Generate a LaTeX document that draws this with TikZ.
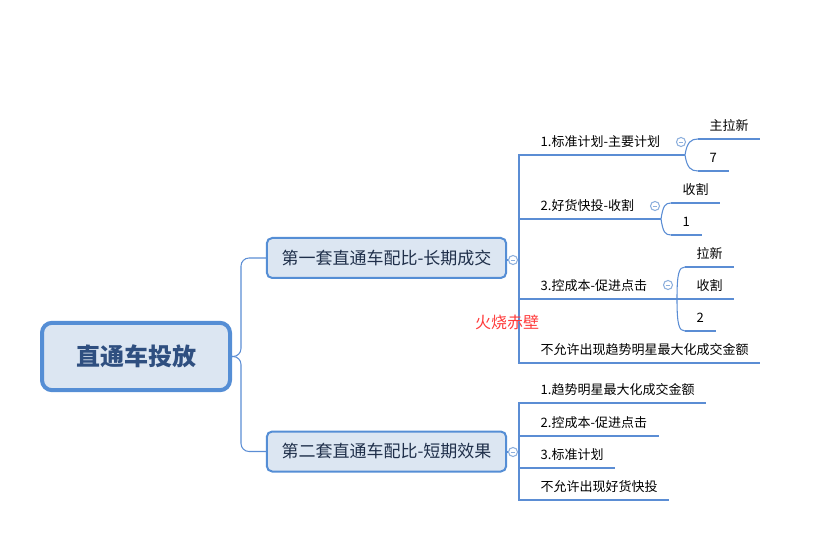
\documentclass[tikz,border=0pt]{standalone}
\usepackage{fontspec}
\setmainfont{Noto Sans CJK SC}
\definecolor{lineblue}{HTML}{5B8DD4}
\definecolor{boxfill}{HTML}{DCE6F2}
\definecolor{boxborder}{HTML}{558ED5}
\definecolor{roottext}{HTML}{2F4F80}
\definecolor{branchtext}{HTML}{1F2F4A}
\definecolor{collapse}{HTML}{8EB0DD}
\definecolor{firered}{HTML}{FF3B3B}
\tikzset{
  rootbox/.style={draw=boxborder, line width=3pt, fill=boxfill, rounded corners=7.5pt,
    minimum width=141pt, minimum height=50.5pt, inner sep=0pt,
    font=\fontsize{18pt}{20pt}\selectfont\bfseries, text=roottext},
  branchbox/.style={draw=boxborder, line width=1.5pt, fill=boxfill, rounded corners=4pt,
    minimum width=179.5pt, minimum height=30pt, inner sep=0pt,
    font=\fontsize{12.75pt}{14pt}\selectfont, text=branchtext},
  leaf/.style={anchor=south west, inner xsep=8.6pt, inner ysep=4pt,
    text height=7.8pt, text depth=1.95pt,
    font=\fontsize{9.75pt}{11pt}\selectfont, text=black},
  uline/.style={draw=lineblue, line width=2.2pt},
  conn/.style={draw=lineblue, line width=0.8pt},
  collapsebtn/.style={circle, draw=collapse, fill=white, line width=0.8pt,
    minimum size=6.8pt, inner sep=0pt,
    path picture={\draw[collapse, line width=0.7pt]
      ([xshift=-1.8pt]path picture bounding box.center) -- ([xshift=1.8pt]path picture bounding box.center);}},
}
\newcommand{\uln}[1]{\draw[uline] (#1.south west) -- (#1.south east);}
\begin{document}
\begin{tikzpicture}[x=0.75pt,y=-0.75pt]
\useasboundingbox (0,0) rectangle (828,538);

% root and branches
\node[rootbox] (root) at (136,356.5) {直通车投放};
\node[branchbox] (b1) at (386.5,258) {第一套直通车配比-长期成交};
\node[branchbox] (b2) at (386.5,451.5) {第二套直通车配比-短期效果};
\draw[conn, rounded corners=6pt] (root.east) -- ++(9,0) |- (b1.west);
\draw[conn, rounded corners=6pt] (root.east) -- ++(9,0) |- (b2.west);

\node[collapsebtn] (cb1) at (513,260) {};
\node[collapsebtn] (cb2) at (513,452) {};
\draw[conn] (b1.east |- cb1) -- (cb1.west);
\draw[conn] (b2.east |- cb2) -- (cb2.west);

% branch 1 children
\node[leaf] (c11) at (529,155) {1.标准计划-主要计划};
\node[leaf] (c12) at (529,219) {2.好货快投-收割};
\node[leaf] (c13) at (529,299) {3.控成本-促进点击};
\node[leaf] (c14) at (529,363) {不允许出现趋势明星最大化成交金额};
\coordinate (sp1) at (519,260);
\draw[conn] (cb1.east) -- (sp1);
\draw[conn] (c11.south west) -- ++(-10,0) |- (c14.south west);
\draw[conn] (c12.south west) -- ++(-10,0);
\draw[conn] (c13.south west) -- ++(-10,0);
\uln{c11}\uln{c12}\uln{c13}\uln{c14}

% c11 children
\node[collapsebtn] (cb11) at (681,142) {};
\node[leaf] (d111) at (698,139) {主拉新};
\node[leaf] (d112) at (698,171) {7};
\coordinate (f11) at (685,155);
\draw[conn] (c11.south east) -- (f11);
\draw[conn] (f11) .. controls +(2,-13) and +(-7,0) .. (d111.south west);
\draw[conn] (f11) .. controls +(2,13) and +(-7,0) .. (d112.south west);
\uln{d111}\uln{d112}

% c12 children
\node[collapsebtn] (cb12) at (655,206) {};
\node[leaf] (d121) at (671,203) {收割};
\node[leaf] (d122) at (671,235) {1};
\coordinate (f12) at (661,219);
\draw[conn] (c12.south east) -- (f12);
\draw[conn] (f12) .. controls +(2,-13) and +(-6,0) .. (d121.south west);
\draw[conn] (f12) .. controls +(2,13) and +(-6,0) .. (d122.south west);
\uln{d121}\uln{d122}

% c13 children
\node[collapsebtn] (cb13) at (668,285) {};
\node[leaf] (d131) at (685,267) {拉新};
\node[leaf] (d132) at (685,299) {收割};
\node[leaf] (d133) at (685,331) {2};
\coordinate (f13) at (677,299);
\draw[conn] (c13.south east) -- (d132.south west);
\draw[conn] (f13) .. controls +(0,-26) and +(-6,0) .. (d131.south west);
\draw[conn] (f13) .. controls +(0,26) and +(-6,0) .. (d133.south west);
\uln{d131}\uln{d132}\uln{d133}

% branch 2 children
\node[leaf] (c21) at (529,403) {1.趋势明星最大化成交金额};
\node[leaf] (c22) at (529,436) {2.控成本-促进点击};
\node[leaf] (c23) at (529,468) {3.标准计划};
\node[leaf] (c24) at (529,500) {不允许出现好货快投};
\coordinate (sp2) at (519,452);
\draw[conn] (cb2.east) -- (sp2);
\draw[conn] (c21.south west) -- ++(-10,0) |- (c24.south west);
\draw[conn] (c22.south west) -- ++(-10,0);
\draw[conn] (c23.south west) -- ++(-10,0);
\uln{c21}\uln{c22}\uln{c23}\uln{c24}

% floating label
\node[text=firered, font=\fontsize{12pt}{13pt}\selectfont, inner sep=0pt] (fire) at (507,322) {火烧赤壁};
\end{tikzpicture}
\end{document}
